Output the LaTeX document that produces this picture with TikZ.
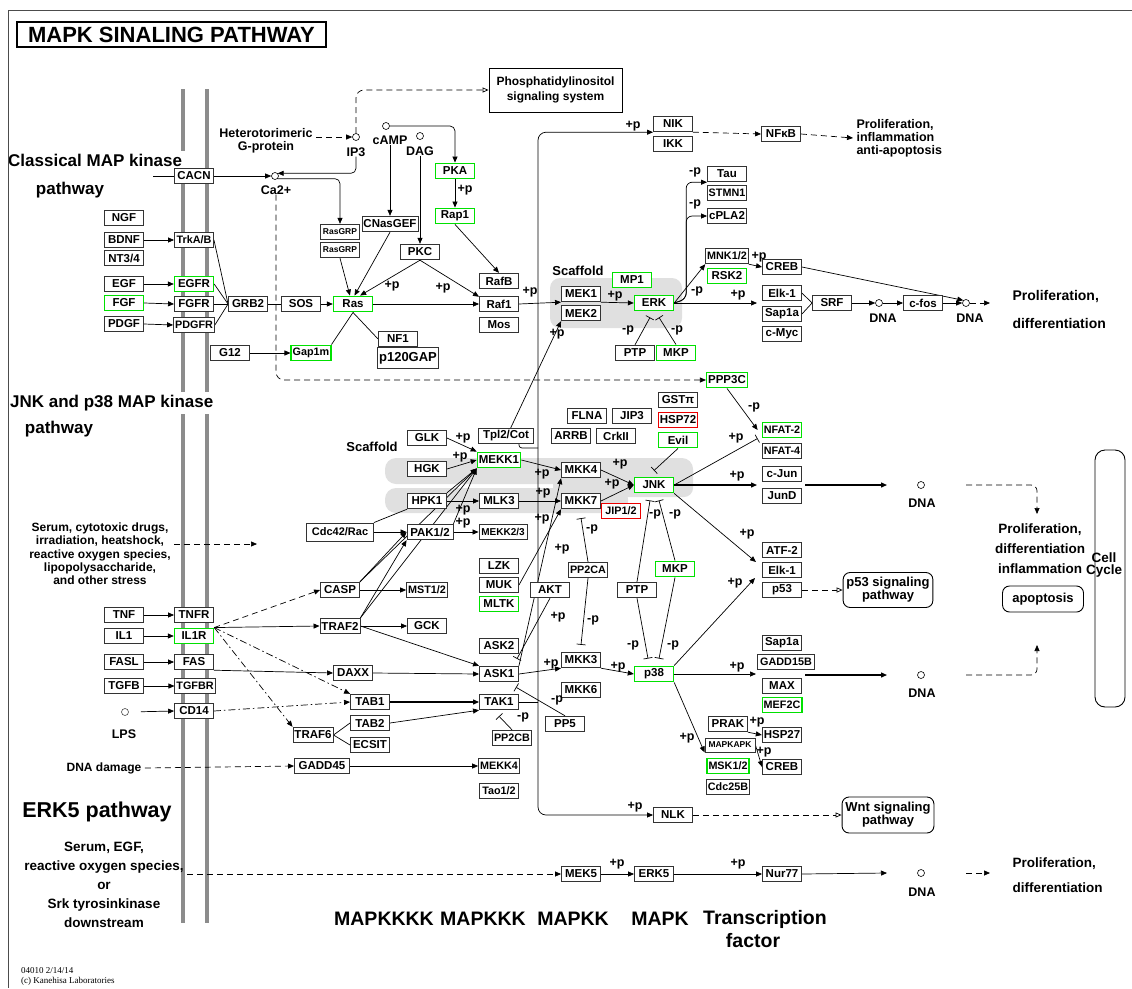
\documentclass[tikz,border=0pt]{standalone}
\usepackage{fontspec}
\setmainfont{Liberation Sans}
\newfontfamily\kegfoot{Liberation Serif}
\usetikzlibrary{arrows.meta}
\definecolor{kgreen}{RGB}{0,225,0}
\definecolor{kred}{RGB}{235,0,0}
\definecolor{memgray}{RGB}{140,140,140}
\pgfdeclarelayer{back}
\pgfdeclarelayer{wires}
\pgfsetlayers{back,wires,main}

\begin{document}
\begin{tikzpicture}[x=1pt,y=-1pt]
	\tikzstyle{every node}+=[font=\bfseries\fontsize{11.5}{12}\selectfont]
	\tikzstyle{gene}=[draw=black!80,line width=0.9pt,fill=white,minimum width=39pt,minimum height=15.5pt,inner xsep=1.5pt,inner ysep=0pt]
	\tikzstyle{hit}=[gene,draw=kgreen,line width=1.4pt]
	\tikzstyle{lost}=[gene,draw=kred,line width=1.4pt]
	\tikzstyle{md}=[font=\bfseries\fontsize{10.8}{11}\selectfont]
	\tikzstyle{sm}=[font=\bfseries\fontsize{10}{10}\selectfont]
	\tikzstyle{tn}=[font=\bfseries\fontsize{8.5}{9}\selectfont]
	\tikzstyle{lab}=[inner sep=0pt,font=\bfseries\fontsize{12.5}{13}\selectfont]
	\tikzstyle{big}=[font=\bfseries\fontsize{17}{20}\selectfont]
	\tikzstyle{tier}=[font=\bfseries\fontsize{19.5}{22}\selectfont]
	\tikzstyle{dna}=[circle,draw,line width=0.6pt,fill=white,inner sep=0pt,minimum size=7pt]
	\tikzstyle{mapbox}=[draw,line width=0.9pt,rounded corners=7pt,fill=white,align=center,font=\bfseries\fontsize{13}{13}\selectfont]
	\tikzstyle{arr}=[line width=0.7pt,-{Triangle[length=6pt,width=5pt]}]
	\tikzstyle{inh}=[line width=0.7pt,-{Bar[width=9pt]}]
	\tikzstyle{ind}=[arr,dash pattern=on 6pt off 4pt]
	\tikzstyle{dd}=[arr,dash pattern=on 7pt off 3pt on 1.5pt off 3pt]
	\tikzstyle{opn}=[line width=0.7pt,dash pattern=on 6pt off 4pt,-{Triangle[open,length=6pt,width=5pt]}]
	\tikzstyle{lnk}=[line width=0.7pt]

	\useasboundingbox (0,0) rectangle (1132,988);

	\begin{pgfonlayer}{back}
		\fill[white] (0,0) rectangle (1132,988);
		\draw[memgray,line width=3.5pt] (183,89) -- (183,923);
		\draw[memgray,line width=3.5pt] (207,89) -- (207,923);
		\fill[black!12,rounded corners=10pt] (550,278) rectangle (682,328);
		\fill[black!12,rounded corners=11pt] (385,458) rectangle (693,484);
		\fill[black!12,rounded corners=11pt] (385,488) rectangle (628,513);
		\fill[black!12,rounded corners=9pt] (553,462) rectangle (693,497);
	\end{pgfonlayer}

	\node[draw,line width=1.4pt,minimum width=309pt,minimum height=25pt,inner sep=0pt,font=\bfseries\fontsize{22}{24}\selectfont] (title) at (171.5,34.5) {MAPK SINALING PATHWAY};
	\node[big,fill=white,anchor=west,inner sep=3pt] (classic) at (5,160) {Classical MAP kinase};
	\node[big] (classicb) at (70,190) {pathway};
	\node[big,fill=white,anchor=west,inner sep=3pt] (jnkp) at (7,403) {JNK and p38 MAP kinase};
	\node[big] (jnkpb) at (59,429) {pathway};
	\draw[black!70,line width=1pt] (1132,10) -- (8,10) -- (8,988);
	\node[font=\bfseries\fontsize{21.5}{24}\selectfont] (erk5p) at (97,812) {ERK5 pathway};
	\node[align=center,font=\bfseries\fontsize{12}{13.3}\selectfont] (stress) at (100,554) {Serum, cytotoxic drugs,\\irradiation, heatshock,\\reactive oxygen species,\\lipopolysaccharide,\\and other stress};
	\node[align=center,font=\bfseries\fontsize{13.5}{19}\selectfont] (serum) at (104,885) {Serum, EGF,\\reactive oxygen species,\\or\\Srk tyrosinkinase\\downstream};
	\node[font=\bfseries\fontsize{12}{13}\selectfont] (dnad) at (104,768) {DNA damage};
	\node[align=left,anchor=north west,inner sep=0pt,font=\kegfoot\fontsize{9}{10}\selectfont] (foot) at (21,967) {04010 2/14/14\\(c) Kanehisa Laboratories};
	\node[tier] (t4) at (384,919) {MAPKKKK};
	\node[tier] (t3) at (483,919) {MAPKKK};
	\node[tier] (t2) at (573,919) {MAPKK};
	\node[tier] (t1) at (660,919) {MAPK};
	\node[tier] (t0) at (765,919) {Transcription};
	\node[tier] (t0b) at (753,941) {factor};

	\node[align=center,font=\bfseries\fontsize{12.5}{13}\selectfont] (gprot) at (266,140.5) {Heterotorimeric\\G-protein};
	\node[dna] (ip3) at (356,137) {};
	\node[lab] (ip3l) at (356,152) {IP3};
	\node[dna] (camp) at (386,126) {};
	\node[lab] (campl) at (390,140) {cAMP};
	\node[dna] (dag) at (420,136) {};
	\node[lab] (dagl) at (420,151) {DAG};
	\node[dna] (ca) at (275,176) {};
	\node[lab] (cal) at (276,190) {Ca2+};
	\node[draw,line width=0.9pt,fill=white,minimum width=133pt,minimum height=44pt,align=center,font=\bfseries\fontsize{12}{15}\selectfont] (phos) at (555.5,90) {Phosphatidylinositol\\signaling system};
	\coordinate (cin) at (153,176);

	\node[gene] (cacn) at (194,176) {CACN};
	\node[gene] (ngf) at (124,218) {NGF};
	\node[gene] (bdnf) at (124,240) {BDNF};
	\node[gene] (nt) at (124,258) {NT3/4};
	\node[gene] (egf) at (124,284) {EGF};
	\node[hit] (fgf) at (124,303) {FGF};
	\node[gene] (pdgf) at (124,324) {PDGF};
	\node[gene,md] (trk) at (194,240) {TrkA/B};
	\node[hit] (egfr) at (194,284) {EGFR};
	\node[gene] (fgfr) at (194,304) {FGFR};
	\node[gene,md] (pdgfr) at (194,325) {PDGFR};
	\node[gene] (grb2) at (248,304) {GRB2};
	\node[gene] (sos) at (301,304) {SOS};
	\node[hit] (ras) at (353,304) {Ras};
	\node[gene,tn] (rasgrpa) at (340,232) {RasGRP};
	\node[gene,tn] (rasgrpb) at (340,250) {RasGRP};
	\node[gene] (cnasgef) at (390,224) {CNasGEF};
	\node[gene] (pkc) at (420,252) {PKC};
	\node[hit] (pka) at (455,171) {PKA};
	\node[hit] (rap1) at (455,216) {Rap1};
	\node[gene] (rafb) at (499,281) {RafB};
	\node[gene] (raf1) at (499,304) {Raf1};
	\node[gene] (mos) at (499,325) {Mos};
	\node[gene] (nf1) at (398,339) {NF1};
	\node[gene,minimum height=21pt,font=\bfseries\fontsize{13}{13}\selectfont] (p120) at (408,358) {p120GAP};
	\node[gene] (g12) at (230,353) {G12};
	\node[hit,md] (gap1m) at (311,353) {Gap1m};
	\node[lab,font=\bfseries\fontsize{13}{13}\selectfont] (scafa) at (578,271) {Scaffold};
	\node[gene] (mek1) at (581,294) {MEK1};
	\node[gene] (mek2) at (581,313) {MEK2};
	\node[hit] (mp1) at (632,280) {MP1};
	\node[hit] (erk) at (654,303) {ERK};
	\node[gene] (ptpa) at (635,353) {PTP};
	\node[hit] (mkpa) at (676,353) {MKP};
	\node[gene] (nik) at (673,124) {NIK};
	\node[gene] (ikk) at (673,144) {IKK};
	\node[gene] (nfkb) at (781,134) {NFκB};
	\node[gene] (tau) at (727,174) {Tau};
	\node[gene,md] (stmn1) at (727,193) {STMN1};
	\node[gene] (cpla2) at (727,216) {cPLA2};
	\node[gene,md] (mnk) at (727,256) {MNK1/2};
	\node[hit] (rsk2) at (727,276) {RSK2};
	\node[gene] (creba) at (782,267) {CREB};
	\node[gene] (elka) at (782,293) {Elk-1};
	\node[gene] (sap1aa) at (782,314) {Sap1a};
	\node[gene] (cmyc) at (782,334) {c-Myc};
	\node[gene] (srf) at (832,303) {SRF};
	\node[dna] (dna1) at (879,303) {};
	\node[lab] (dna1l) at (883,318) {DNA};
	\node[gene] (cfos) at (923,303) {c-fos};
	\node[dna] (dna2) at (966,303) {};
	\node[lab] (dna2l) at (970,318) {DNA};
	\node[align=left,anchor=west,font=\bfseries\fontsize{14}{28}\selectfont] (prolifd) at (1009,309) {Proliferation,\\differentiation};
	\node[align=left,anchor=west,font=\bfseries\fontsize{12.5}{13}\selectfont] (prolifa) at (853,138) {Proliferation,\\inflammation\\anti-apoptosis};
	\node[hit] (ppp3c) at (727,380) {PPP3C};

	\node[lab,font=\bfseries\fontsize{13}{13}\selectfont] (scafb) at (372,447) {Scaffold};
	\node[gene] (glk) at (427,438) {GLK};
	\node[gene] (hgk) at (427,469) {HGK};
	\node[gene] (hpk1) at (427,501) {HPK1};
	\node[hit] (mekk1) at (499,460) {MEKK1};
	\node[gene,minimum width=55pt] (tpl2) at (506,436) {Tpl2/Cot};
	\node[gene] (mlk3) at (499,501) {MLK3};
	\node[gene,minimum width=67pt,minimum height=18pt,font=\bfseries\fontsize{11}{11}\selectfont] (cdc42) at (340,532) {Cdc42/Rac};
	\node[gene,minimum width=46pt] (pak) at (430,532) {PAK1/2};
	\node[gene,sm,minimum width=48pt] (mekk23) at (503,532) {MEKK2/3};
	\node[gene] (lzk) at (499,566) {LZK};
	\node[gene] (muk) at (499,585) {MUK};
	\node[hit] (mltk) at (499,604) {MLTK};
	\node[gene] (casp) at (340,590) {CASP};
	\node[gene,md] (mst) at (427,590) {MST1/2};
	\node[gene] (traf2) at (340,626) {TRAF2};
	\node[gene] (gck) at (427,626) {GCK};
	\node[gene] (ask2) at (499,646) {ASK2};
	\node[gene] (akt) at (550,590) {AKT};
	\node[gene] (flna) at (587,416) {FLNA};
	\node[gene] (jip3) at (632,416) {JIP3};
	\node[gene] (arrb) at (571,436) {ARRB};
	\node[gene] (crkii) at (616,436) {CrkII};
	\node[gene] (gst) at (678,400) {GSTπ};
	\node[lost] (hsp72) at (678,420) {HSP72};
	\node[hit] (evil) at (678,440) {Evil};
	\node[gene] (mkk4) at (581,470) {MKK4};
	\node[gene] (mkk7) at (581,501) {MKK7};
	\node[hit] (jnk) at (654,485) {JNK};
	\node[lost,md] (jip) at (621,511) {JIP1/2};
	\node[hit,md] (nfat2) at (782,430) {NFAT-2};
	\node[gene,md] (nfat4) at (782,451) {NFAT-4};
	\node[gene] (cjun) at (782,474) {c-Jun};
	\node[gene] (jund) at (782,496) {JunD};
	\node[dna] (dna3) at (921,485) {};
	\node[lab] (dna3l) at (922,503) {DNA};
	\node[align=center,font=\bfseries\fontsize{13.5}{20}\selectfont] (prolifb) at (1040,549) {Proliferation,\\differentiation\\inflammation};
	\node[draw,line width=0.9pt,rounded corners=10pt,minimum width=30pt,minimum height=257pt] (cellbox) at (1110,578.5) {};
	\node[align=center,inner sep=0pt,font=\bfseries\fontsize{13.5}{12}\selectfont] (cell) at (1104,565) {Cell\\Cycle};
	\node[mapbox,minimum width=81pt,minimum height=26pt] (apop) at (1043,599) {apoptosis};
	\node[gene] (atf2) at (782,550) {ATF-2};
	\node[gene] (elkb) at (782,570) {Elk-1};
	\node[gene] (p53) at (782,590) {p53};
	\node[mapbox,minimum width=81pt,minimum height=35pt] (p53path) at (888,590) {p53 signaling\\pathway};
	\node[gene,md] (pp2ca) at (588,570) {PP2CA};
	\node[gene] (ptpb) at (637,590) {PTP};
	\node[hit] (mkpb) at (675,569) {MKP};

	\node[gene] (tnf) at (124,615) {TNF};
	\node[gene] (tnfr) at (194,615) {TNFR};
	\node[gene] (il1) at (124,636) {IL1};
	\node[hit] (il1r) at (194,636) {IL1R};
	\node[gene] (fasl) at (124,662) {FASL};
	\node[gene] (fas) at (194,662) {FAS};
	\node[gene] (tgfb) at (124,686) {TGFB};
	\node[gene,md] (tgfbr) at (195,686) {TGFBR};
	\node[gene] (cd14) at (194,711) {CD14};
	\node[dna,draw=black!70] (lps) at (125,712) {};
	\node[lab] (lpsl) at (124,734) {LPS};
	\node[gene] (daxx) at (353,673) {DAXX};
	\node[gene] (ask1) at (499,674) {ASK1};
	\node[gene] (mkk3) at (581,660) {MKK3};
	\node[gene] (mkk6) at (581,690) {MKK6};
	\node[hit] (p38) at (654,674) {p38};
	\node[gene] (tab1) at (370,702) {TAB1};
	\node[gene] (tab2) at (370,723) {TAB2};
	\node[gene] (ecsit) at (370,745) {ECSIT};
	\node[gene] (traf6) at (313,735) {TRAF6};
	\node[gene] (tak1) at (499,702) {TAK1};
	\node[gene,md] (pp2cb) at (512,738) {PP2CB};
	\node[gene] (pp5) at (565,724) {PP5};
	\node[gene,minimum width=55pt] (gadd45) at (322,766) {GADD45};
	\node[gene,md] (mekk4) at (499,766) {MEKK4};
	\node[gene,md] (tao) at (499,791) {Tao1/2};
	\node[gene] (sap1ab) at (782,643) {Sap1a};
	\node[gene,md,minimum width=57pt] (gadd15b) at (786,662) {GADD15B};
	\node[gene] (max) at (782,686) {MAX};
	\node[hit,md] (mef2c) at (782,705) {MEF2C};
	\node[dna] (dna4) at (921,675) {};
	\node[lab] (dna4l) at (922,693) {DNA};
	\node[gene] (prak) at (728,724) {PRAK};
	\node[gene,tn,minimum width=50pt,minimum height=14pt] (mapkapk) at (730,745) {MAPKAPK};
	\node[hit,md] (msk) at (728,766) {MSK1/2};
	\node[gene,md] (cdc25b) at (728,787) {Cdc25B};
	\node[gene] (hsp27) at (782,735) {HSP27};
	\node[gene] (crebb) at (782,767) {CREB};
	\node[gene] (nlk) at (673,815) {NLK};
	\node[mapbox,minimum width=81pt,minimum height=36pt] (wnt) at (888,815) {Wnt signaling\\pathway};
	\node[gene] (mek5) at (581,874) {MEK5};
	\node[gene] (erk5) at (654,874) {ERK5};
	\node[gene] (nur77) at (782,874) {Nur77};
	\node[dna] (dna5) at (921,873) {};
	\node[lab] (dna5l) at (922,892) {DNA};
	\node[align=left,anchor=west,font=\bfseries\fontsize{13.5}{25}\selectfont] (prolifc) at (1009,875.5) {Proliferation,\\differentiation};

	\coordinate (bus) at (538,702);
	\coordinate (tplbus) at (538,448);
	\coordinate (elkin) at (757,303);
	\coordinate (pro1in) at (990,303);
	\coordinate (junin) at (757,485);
	\coordinate (junout) at (805,485);
	\coordinate (dna3in) at (887,485);
	\coordinate (dna3out) at (966,485);
	\coordinate (pro3in) at (1037,514);
	\coordinate (atfin) at (756,562);
	\coordinate (atfin2) at (755,578);
	\coordinate (gaddin) at (756,674);
	\coordinate (gaddout) at (805,675);
	\coordinate (dna4in) at (887,675);
	\coordinate (dna4out) at (966,675);
	\coordinate (apin) at (1037,645);
	\coordinate (stressin) at (257,544);
	\coordinate (dna5in) at (887,873);
	\coordinate (dna5out) at (966,873);
	\coordinate (pro5in) at (990,873);

	\node[lab] (p1) at (465,190) {+p};
	\node[lab] (p2) at (392,286) {+p};
	\node[lab] (p3) at (443,288) {+p};
	\node[lab] (p4) at (530,292) {+p};
	\node[lab] (p5) at (557,334) {+p};
	\node[lab] (p6) at (615,296) {+p};
	\node[lab] (p7) at (695,172) {-p};
	\node[lab] (p8) at (695,204) {-p};
	\node[lab] (p9) at (697,291) {-p};
	\node[lab] (p10) at (759,257) {+p};
	\node[lab] (p11) at (738,295) {+p};
	\node[lab] (p12) at (628,330) {-p};
	\node[lab] (p13) at (677,330) {-p};
	\node[lab] (p14) at (633,126) {+p};
	\node[lab] (p15) at (754,407) {-p};
	\node[lab] (p16) at (736,438) {+p};
	\node[lab] (p17) at (737,476) {+p};
	\node[lab] (p18) at (747,534) {+p};
	\node[lab] (p19) at (735,583) {+p};
	\node[lab] (p20) at (620,464) {+p};
	\node[lab] (p21) at (612,484) {+p};
	\node[lab] (p22) at (463,438) {+p};
	\node[lab] (p23) at (460,457) {+p};
	\node[lab] (p24) at (463,510) {+p};
	\node[lab] (p25) at (463,523) {+p};
	\node[lab] (p26) at (542,474) {+p};
	\node[lab] (p27) at (543,493) {+p};
	\node[lab] (p28) at (542,519) {+p};
	\node[lab] (p29) at (562,549) {+p};
	\node[lab] (p30) at (558,617) {+p};
	\node[lab] (p31) at (592,529) {-p};
	\node[lab] (p32) at (593,620) {-p};
	\node[lab] (p33) at (655,514) {-p};
	\node[lab] (p34) at (675,514) {-p};
	\node[lab] (p35) at (633,645) {-p};
	\node[lab] (p36) at (673,645) {-p};
	\node[lab] (p37) at (551,664) {+p};
	\node[lab] (p38l) at (557,700) {-p};
	\node[lab] (p39) at (523,717) {-p};
	\node[lab] (p40) at (618,667) {+p};
	\node[lab] (p41) at (737,667) {+p};
	\node[lab] (p42) at (687,738) {+p};
	\node[lab] (p43) at (757,722) {+p};
	\node[lab] (p44) at (764,752) {+p};
	\node[lab] (p45) at (635,807) {+p};
	\node[lab] (p46) at (617,864) {+p};
	\node[lab] (p47) at (738,864) {+p};

	\begin{pgfonlayer}{wires}
		\draw[lnk] (cin) -- (cacn.west);
		\draw[arr] (cacn.east) -- (ca.west);
		\draw[arr,rounded corners=5pt] (ip3l.south) |- (ca.north east);
		\draw[arr,rounded corners=5pt] (ca.south east) -| (rasgrpa.north);
		\draw[ind,rounded corners=8pt] (cal.south) |- (ppp3c.west);
		\draw[ind] (gprot.east |- ip3.west) -- (ip3.west);
		\draw[opn,rounded corners=8pt] (ip3.north) |- (phos.west);
		\draw[arr,rounded corners=5pt] (camp.east) -| (pka.north);
		\draw[arr] (campl.south) -- (cnasgef.north);
		\draw[arr] (dagl.south) -- (pkc.north);
		\draw[arr] (pka.south) -- (rap1.north);
		\draw[arr] (rap1.south) -- (rafb.north);
		\draw[arr] (bdnf.east) -- (trk.west);
		\draw[arr] (egf.east) -- (egfr.west);
		\draw[arr] (fgf.east) -- (fgfr.west);
		\draw[arr] (pdgf.east) -- (pdgfr.west);
		\draw[lnk] (trk.east) -- (grb2.west);
		\draw[lnk] (egfr.east) -- (grb2.west);
		\draw[lnk] (fgfr.east) -- (grb2.west);
		\draw[lnk] (pdgfr.east) -- (grb2.west);
		\draw[lnk] (grb2.east) -- (sos.west);
		\draw[arr] (sos.east) -- (ras.west);
		\draw[arr] (rasgrpb.south) -- (ras.110);
		\draw[arr] (cnasgef.south) -- (ras.80);
		\draw[arr] (pkc.south) -- (ras.50);
		\draw[arr] (pkc.south) -- (raf1.160);
		\draw[arr] (ras.east) -- (raf1.west);
		\draw[lnk] (ras.south) -- (gap1m.north east);
		\draw[lnk] (ras.south) -- (nf1.west);
		\draw[arr] (g12.east) -- (gap1m.west);
		\draw[arr] (raf1.east) -- (mek1.south west);
		\draw[arr] (tpl2.60) -- (mek2.south west);
		\draw[arr] (mek1.south east) -- (erk.west);
		\draw[arr,rounded corners=6pt] (erk.east) -- ++(12,-4) |- (tau.south west);
		\draw[arr,rounded corners=6pt] (erk.east) -- ++(12,-4) |- (cpla2.west);
		\draw[arr] (erk.east) -- (mnk.south west);
		\draw[arr] (mnk.south east) -- (creba.west);
		\draw[arr] (erk.east) -- (elkin);
		\draw[lnk] (elka.east) -- (srf.west);
		\draw[lnk] (sap1aa.east) -- (srf.west);
		\draw[arr] (srf.east) -- (dna1.west);
		\draw[arr] (dna1.east) -- (cfos.west);
		\draw[arr] (cfos.east) -- (dna2.west);
		\draw[arr] (creba.east) -- (dna2.north west);
		\draw[ind] (dna2.east) -- (pro1in);
		\draw[inh] (ptpa.north) -- ([xshift=-4pt,yshift=-6pt]erk.south);
		\draw[inh] (mkpa.north) -- ([xshift=5pt,yshift=-6pt]erk.south);
		\draw[lnk] (tak1.east) -- (bus);
		\draw[arr,rounded corners=8pt] (bus) |- (nik.south west);
		\draw[arr,rounded corners=8pt] (bus) |- (nlk.west);
		\draw[lnk,rounded corners=3pt] ([xshift=-15pt]tpl2.south east) |- (tplbus);
		\draw[ind] (nik.south east) -- (nfkb.west);
		\draw[ind] (nfkb.east) -- (prolifa.west);
		\draw[arr] (ppp3c.south) -- ([xshift=-4pt]nfat2.west);
		\draw[inh] (jnk.east) -- ([xshift=-4pt]nfat2.south west);
		\draw[arr,line width=1.3pt] (jnk.east) -- (junin);
		\draw[arr,line width=1.3pt] (junout) -- (dna3in);
		\draw[ind,rounded corners=6pt] (dna3out) -| (pro3in);
		\draw[arr] (jnk.south east) -- (atfin);
		\draw[arr] (p38.north east) -- (atfin2);
		\draw[opn] (p53.east) -- (p53path.west);
		\draw[arr] (mkk4.east) -- (jnk.west);
		\draw[arr] (mkk7.east) -- (jnk.west);
		\draw[inh] (evil.south) -- ([yshift=6pt]jnk.north);
		\draw[inh] (pp2ca.north) -- ([yshift=-9pt]mkk7.south);
		\draw[inh] (pp2ca.south) -- ([yshift=7pt]mkk3.north);
		\draw[inh] (ptpb.north) -- ([xshift=-4pt,yshift=-7pt]jnk.south);
		\draw[inh] (mkpb.north) -- ([xshift=5pt,yshift=-7pt]jnk.south);
		\draw[inh] (ptpb.south) -- ([xshift=-6pt,yshift=7pt]p38.north);
		\draw[inh] (mkpb.south) -- ([xshift=5pt,yshift=7pt]p38.north);
		\draw[arr] (mekk1.east) -- (mkk4.west);
		\draw[arr] (mlk3.east) -- (mkk7.west);
		\draw[arr] (hpk1.east) -- (mlk3.west);
		\draw[arr] (glk.east) -- (mekk1.north west);
		\draw[arr] (hgk.east) -- (mekk1.west);
		\draw[arr] (hpk1.north east) -- (mekk1.south west);
		\draw[arr] (pak.north east) -- (mekk1.south west);
		\draw[arr] (casp.north east) -- (mekk1.south west);
		\draw[arr] (traf2.north east) -- (mekk1.south west);
		\draw[arr] (casp.north east) -- (pak.west);
		\draw[arr] (traf2.north east) -- (pak.south west);
		\draw[arr] (cdc42.east) -- (pak.west);
		\draw[lnk] (cdc42.north east) -- (hpk1.south west);
		\draw[arr] (pak.east) -- (mekk23.west);
		\draw[arr] (casp.east) -- (mst.west);
		\draw[arr] (traf2.east) -- (gck.west);
		\draw[arr] (traf2.east) -- (ask1.north west);
		\draw[arr] (ask1.north east) -- (mkk4.south west);
		\draw[arr] (muk.east) -- (mkk7.south west);
		\draw[ind] (il1r.north east) -- (casp.west);
		\draw[arr] (il1r.north east) -- (traf2.west);
		\draw[dd] (il1r.north east) -- (tab1.north west);
		\draw[dd] (il1r.north east) -- (traf6.north west);
		\draw[arr] (tnf.east) -- (tnfr.west);
		\draw[arr] (il1.east) -- (il1r.west);
		\draw[arr] (fasl.east) -- (fas.west);
		\draw[arr] (tgfb.east) -- (tgfbr.west);
		\draw[arr,shorten <=12pt] (lps.east) -- (cd14.west);
		\draw[dd] (cd14.east) -- (tab1.west);
		\draw[arr] (fas.south east) -- (daxx.west);
		\draw[arr] (daxx.east) -- (ask1.west);
		\draw[lnk] (traf6.east) -- (tab2.west);
		\draw[lnk] (traf6.east) -- (ecsit.west);
		\draw[arr,line width=1.2pt] (tab1.east) -- (tak1.west);
		\draw[arr] (tab2.east) -- (tak1.south west);
		\draw[ind] (dnad.east) -- (gadd45.west);
		\draw[arr] (gadd45.east) -- (mekk4.west);
		\draw[inh] (pp2cb.north) -- ([yshift=-6pt]tak1.south);
		\draw[inh] (pp5.north) -- ([xshift=-3pt,yshift=-5pt]ask1.south east);
		\draw[inh] (akt.south) -- ([xshift=-2pt,yshift=7pt]ask1.north east);
		\draw[arr] (ask1.east) -- (mkk3.south west);
		\draw[arr] (mkk3.south east) -- (p38.west);
		\draw[arr] (p38.east) -- (gaddin);
		\draw[arr,line width=1.3pt] (gaddout) -- (dna4in);
		\draw[ind,rounded corners=6pt] (dna4out) -| (apin);
		\draw[arr] (p38.south east) -- (mapkapk.south west);
		\draw[arr] (prak.south east) -- (hsp27.west);
		\draw[arr] (mapkapk.east) -- (crebb.west);
		\draw[opn] (nlk.east) -- (wnt.west);
		\draw[ind] (stress.east |- stressin) -- (stressin);
		\draw[ind] (serum.east |- mek5.west) -- (mek5.west);
		\draw[arr] (mek5.east) -- (erk5.west);
		\draw[arr] (erk5.east) -- (nur77.west);
		\draw[arr] (nur77.east) -- (dna5in);
		\draw[ind] (dna5out) -- (pro5in);
	\end{pgfonlayer}
\end{tikzpicture}
\end{document}
